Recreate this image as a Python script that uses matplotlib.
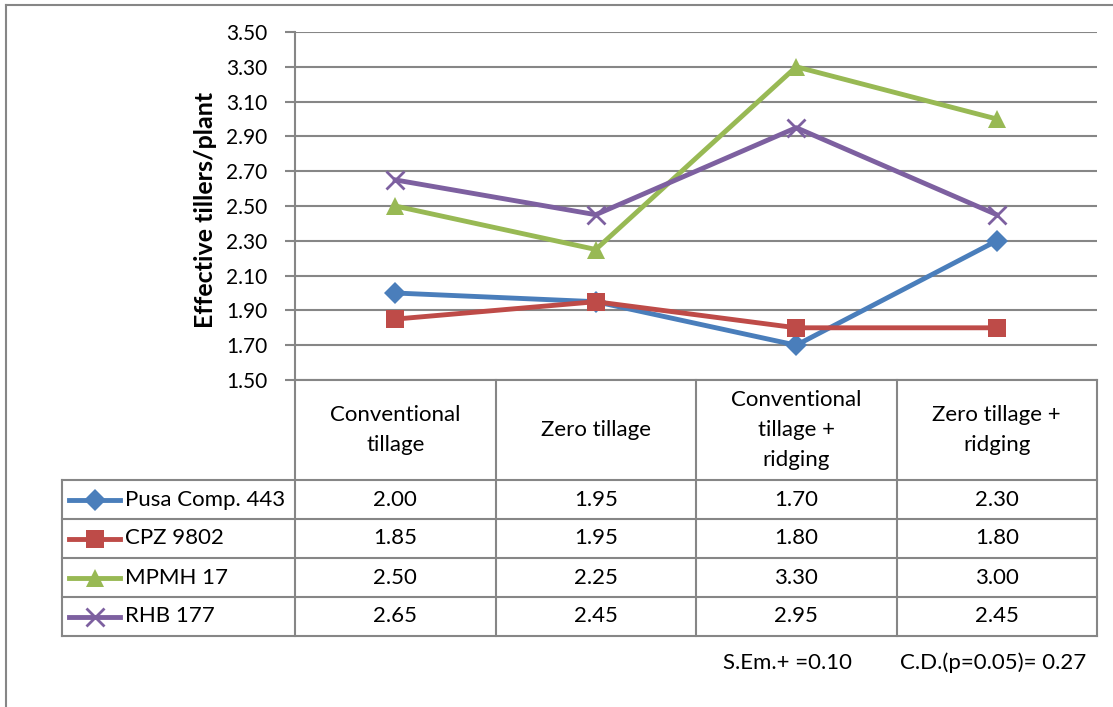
import matplotlib.pyplot as plt
from matplotlib.lines import Line2D
import numpy as np

plt.rcParams['font.family'] = ['Lato', 'DejaVu Sans']

categories = ['Conventional\ntillage', 'Zero tillage', 'Conventional\ntillage +\nridging',
              'Zero tillage +\nridging']
series_names = ['Pusa Comp. 443', 'CPZ 9802', 'MPMH 17', 'RHB 177']
pusa = [2.00, 1.95, 1.70, 2.30]
cpz = [1.85, 1.95, 1.80, 1.80]
mpmh = [2.50, 2.25, 3.30, 3.00]
rhb = [2.65, 2.45, 2.95, 2.45]
yticks = [1.50, 1.70, 1.90, 2.10, 2.30, 2.50, 2.70, 2.90, 3.10, 3.30, 3.50]
ylabel = 'Effective tillers/plant'
footnote_sem = 'S.Em.+ =0.10'
footnote_cd = 'C.D.(p=0.05)= 0.27'

colors = ['#4A7EBB', '#BE4B48', '#98B954', '#7D60A0']
markers = ['D', 's', '^', 'x']
msizes = [11, 13, 13, 13]
all_series = [pusa, cpz, mpmh, rhb]

W, H = 1113, 707
fig = plt.figure(figsize=(W / 100, H / 100), dpi=100)
grid_c = '#868686'
fs = 16


def fx(px):
    return px / W


def fy(py):
    return 1 - py / H


def hline(x0, x1, y, lw=1.5):
    fig.add_artist(Line2D([fx(x0), fx(x1)], [fy(y), fy(y)], color=grid_c, lw=lw))


def vline(x, y0, y1, lw=1.5):
    fig.add_artist(Line2D([fx(x), fx(x)], [fy(y0), fy(y1)], color=grid_c, lw=lw))


# outer chart border
hline(6, W, 5)
vline(6, 5, H)

left, right, top, bottom = 295, 1097, 32, 380
ax = fig.add_axes([fx(left), fy(bottom), fx(right - left), (bottom - top) / H])
x = np.arange(len(categories)) + 0.5
for vals, c, m, ms, name in zip(all_series, colors, markers, msizes, series_names):
    ax.plot(x, vals, color=c, lw=3.5, marker=m, markersize=ms,
            markeredgewidth=2 if m == 'x' else 0, markeredgecolor=c, label=name)
ax.set_xlim(0, len(categories))
ax.set_ylim(1.5, 3.5)
ax.set_yticks(yticks)
ax.set_yticklabels([f'{v:.2f}' for v in yticks], fontsize=15)
ax.set_xticks([])
ax.grid(axis='y', color=grid_c, lw=1.5)
ax.set_axisbelow(True)
for s in ['top', 'right', 'bottom']:
    ax.spines[s].set_visible(False)
ax.spines['left'].set_color(grid_c)
ax.spines['left'].set_linewidth(1.5)
ax.tick_params(axis='y', length=7, width=1.5, color=grid_c, pad=13)
ax.set_ylabel(ylabel, fontsize=18, fontweight='bold')
ax.yaxis.set_label_coords((217 - left) / (right - left), (bottom - 210) / (bottom - top))

# data table
col_edges = np.linspace(left, right, len(categories) + 1)
row_edges = [480, 519, 558, 597, 636]
table_left = 62
hline(left, right, bottom)
for xe in col_edges:
    vline(xe, bottom, row_edges[-1])
vline(table_left, row_edges[0], row_edges[-1])
for ye in row_edges:
    hline(table_left, right, ye)

for i, cat in enumerate(categories):
    cx = (col_edges[i] + col_edges[i + 1]) / 2
    fig.text(fx(cx), fy((bottom + row_edges[0]) / 2), cat, ha='center', va='center',
             fontsize=fs, linespacing=1.6)

for r, (vals, c, m, ms, name) in enumerate(zip(all_series, colors, markers, msizes, series_names)):
    cy = (row_edges[r] + row_edges[r + 1]) / 2
    fig.add_artist(Line2D([fx(69), fx(120)], [fy(cy), fy(cy)], color=c, lw=3.5))
    fig.add_artist(Line2D([fx(95)], [fy(cy)], color=c, marker=m, markersize=ms,
                          markeredgewidth=2 if m == 'x' else 0, markeredgecolor=c))
    fig.text(fx(125), fy(cy), name, ha='left', va='center', fontsize=fs)
    for i, v in enumerate(vals):
        cx = (col_edges[i] + col_edges[i + 1]) / 2
        fig.text(fx(cx), fy(cy), f'{v:.2f}', ha='center', va='center', fontsize=fs)

fig.text(fx(723), fy(663), footnote_sem, ha='left', va='center', fontsize=fs)
fig.text(fx(900), fy(663), footnote_cd, ha='left', va='center', fontsize=fs)

plt.savefig('out.png', dpi=100)
